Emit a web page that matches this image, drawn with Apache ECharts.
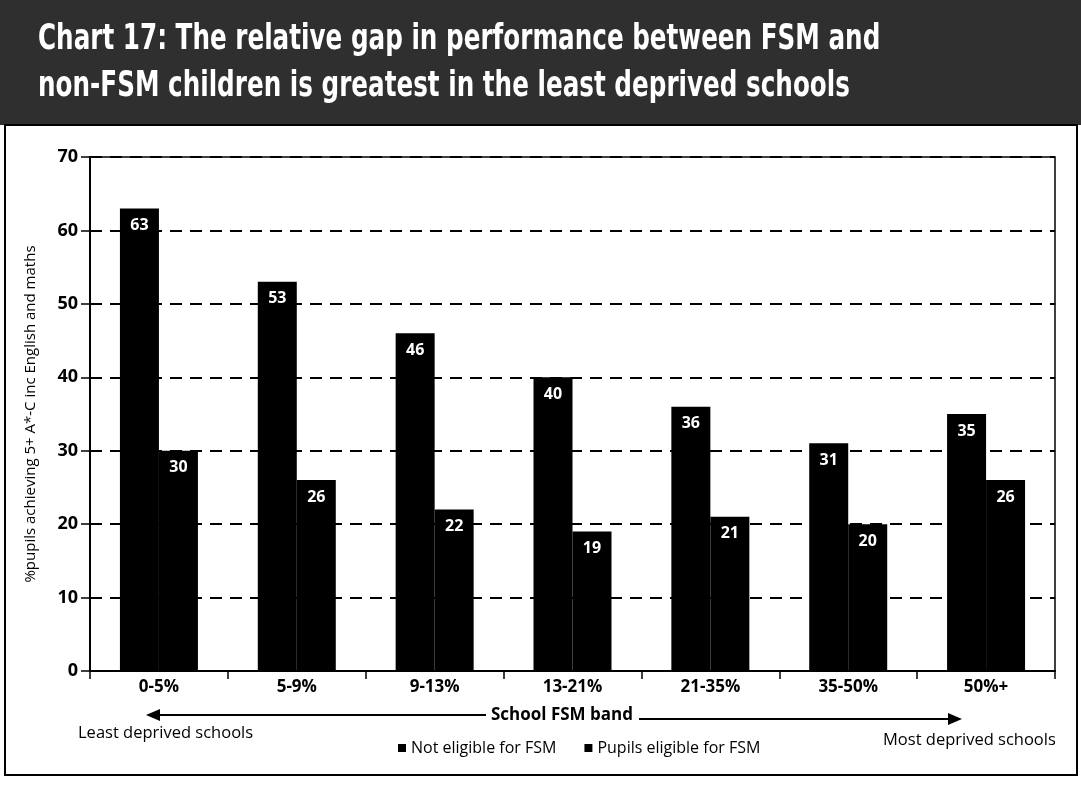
<!DOCTYPE html>
<html>
<head>
<meta charset="utf-8">
<style>
html,body{margin:0;padding:0;background:#fff;}
#chart{width:1081px;height:787px;}
</style>
<script src="https://cdn.jsdelivr.net/npm/echarts@6/dist/echarts.min.js"></script>
</head>
<body>
<div id="chart"></div>
<script>
const categories = ['0-5%', '5-9%', '9-13%', '13-21%', '21-35%', '35-50%', '50%+'];
const notEligible = [63, 53, 46, 40, 36, 31, 35];
const eligible = [30, 26, 22, 19, 21, 20, 26];
const yTicks = { min: 0, max: 70, interval: 10 };
const titleLines = ['Chart 17: The relative gap in performance between FSM and',
                    'non-FSM children is greatest in the least deprived schools'];
const yAxisName = '%pupils achieving 5+ A*-C inc English and maths';

const chart = echarts.init(document.getElementById('chart'), null, { renderer: 'canvas' });
const font = '"Open Sans", "Liberation Sans", sans-serif';

const labelStyle = {
  show: true, position: 'insideTop', distance: 9,
  color: '#fff', fontWeight: 'bold', fontSize: 16, fontFamily: font
};

chart.setOption({
  animation: false,
  backgroundColor: '#fff',
  grid: { left: 90, right: 26, top: 157, bottom: 116, show: true, borderColor: '#000', borderWidth: 1.5, backgroundColor: 'transparent' },
  legend: {
    data: ['Not eligible for FSM', 'Pupils eligible for FSM'],
    left: 393, top: 735, icon: 'rect', itemWidth: 8, itemHeight: 8, itemGap: 28,
    textStyle: { color: '#000', fontSize: 16, fontFamily: font }
  },
  xAxis: {
    type: 'category', data: categories,
    axisLine: { lineStyle: { color: '#000', width: 2 } },
    axisTick: { show: true, length: 8, lineStyle: { color: '#000', width: 1.5 } },
    axisLabel: { color: '#000', fontWeight: 'bold', fontSize: 17, fontFamily: font, margin: 8 }
  },
  yAxis: {
    type: 'value', min: yTicks.min, max: yTicks.max, interval: yTicks.interval,
    name: yAxisName, nameLocation: 'middle', nameGap: 52, nameRotate: 90,
    nameTextStyle: { color: '#000', fontSize: 15, fontFamily: font },
    axisLine: { show: true, lineStyle: { color: '#000', width: 2 } },
    axisTick: { show: true, length: 9, lineStyle: { color: '#000', width: 1.5 } },
    axisLabel: { color: '#000', fontWeight: 'bold', fontSize: 18, fontFamily: font, margin: 12 },
    splitLine: { show: true, lineStyle: { color: '#000', width: 2, type: [12, 8] } }
  },
  series: [
    { name: 'Not eligible for FSM', type: 'bar', data: notEligible, barWidth: 39, barGap: '0%',
      itemStyle: { color: '#000' }, label: labelStyle },
    { name: 'Pupils eligible for FSM', type: 'bar', data: eligible, barWidth: 39,
      itemStyle: { color: '#000' }, label: labelStyle }
  ],
  graphic: [
    { type: 'rect', shape: { x: 0, y: 0, width: 1081, height: 125 }, style: { fill: '#2f2f2f' }, z: -1 },
    { type: 'text', left: 38, top: 22, scaleX: 0.685, style: { text: titleLines[0], fill: '#fff', font: 'bold 36px "DejaVu Sans", sans-serif' } },
    { type: 'text', left: 38, top: 69, scaleX: 0.685, style: { text: titleLines[1], fill: '#fff', font: 'bold 36px "DejaVu Sans", sans-serif' } },
    { type: 'rect', shape: { x: 5, y: 125, width: 1072, height: 650 }, style: { fill: 'none', stroke: '#000', lineWidth: 2 } },
    { type: 'text', x: 562, y: 715, style: { text: 'School FSM band', fill: '#000', font: 'bold 17px "Open Sans", sans-serif', align: 'center', verticalAlign: 'middle' } },
    { type: 'line', shape: { x1: 152, y1: 715, x2: 486, y2: 715 }, style: { stroke: '#000', lineWidth: 2 } },
    { type: 'polygon', shape: { points: [[146, 715], [160, 709], [160, 721]] }, style: { fill: '#000' } },
    { type: 'line', shape: { x1: 639, y1: 719, x2: 955, y2: 719 }, style: { stroke: '#000', lineWidth: 2 } },
    { type: 'polygon', shape: { points: [[962, 719], [948, 713], [948, 725]] }, style: { fill: '#000' } },
    { type: 'text', x: 78, y: 733, style: { text: 'Least deprived schools', fill: '#000', font: '16.5px "Open Sans", sans-serif', verticalAlign: 'middle' } },
    { type: 'text', x: 883, y: 740, style: { text: 'Most deprived schools', fill: '#000', font: '16.5px "Open Sans", sans-serif', verticalAlign: 'middle' } }
  ]
});
</script>
</body>
</html>
